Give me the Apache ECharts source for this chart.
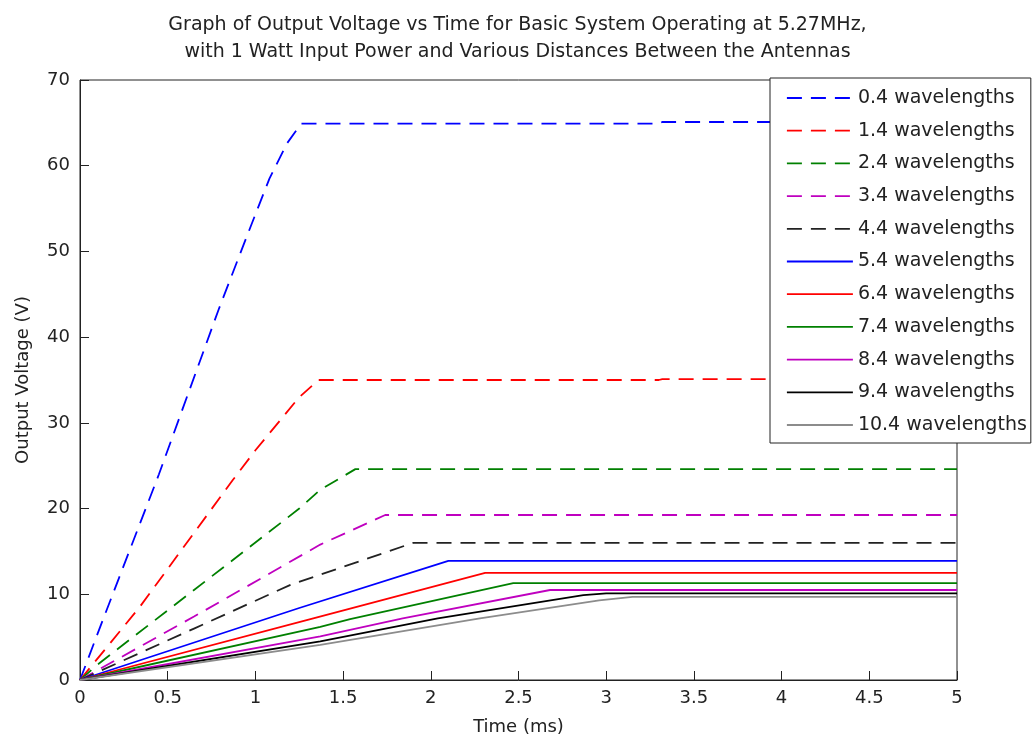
<!DOCTYPE html>
<html>
<head>
<meta charset="utf-8">
<title>Output Voltage vs Time</title>
<script src="https://cdn.jsdelivr.net/npm/echarts@6.0.0/dist/echarts.min.js"></script>
<style>
  html, body { margin: 0; padding: 0; background: #fff; }
  #chart { width: 1035px; height: 740px; }
</style>
</head>
<body>
<div id="chart"></div>
<script>
// Antenna separations, in wavelengths
const distances = ['0.4', '1.4', '2.4', '3.4', '4.4', '5.4', '6.4', '7.4', '8.4', '9.4', '10.4'];

// Output voltage traces: [time (ms), voltage (V)]
const v04 = [[0, 0], [0.13, 7.0], [0.45, 24.0], [0.79, 43.2], [0.95, 51.7], [1.08, 58.5], [1.18, 62.6], [1.26, 64.9], [3.3, 64.9], [3.32, 65.1], [5, 65.1]];
const v14 = [[0, 0], [0.34, 8.5], [0.87, 23.3], [1.0, 26.8], [1.25, 33.0], [1.36, 35.0], [3.3, 35.0], [3.32, 35.1], [5, 35.1]];
const v24 = [[0, 0], [0.1, 1.8], [0.65, 10.5], [1.25, 20.0], [1.37, 22.2], [1.57, 24.6], [5, 24.6]];
const v34 = [[0, 0], [0.65, 7.4], [1.37, 15.8], [1.74, 19.25], [5, 19.25]];
const v44 = [[0, 0], [0.65, 6.0], [1.2, 11.1], [1.9, 16.0], [5, 16.0]];
const v54 = [[0, 0], [1.25, 8.4], [2.1, 13.9], [5, 13.9]];
const v64 = [[0, 0], [1.33, 7.2], [2.31, 12.5], [5, 12.5]];
const v74 = [[0, 0], [1.37, 6.2], [1.54, 7.1], [2.47, 11.3], [5, 11.3]];
const v84 = [[0, 0], [1.37, 5.1], [1.84, 7.2], [2.68, 10.5], [5, 10.5]];
const v94 = [[0, 0], [1.37, 4.5], [2.04, 7.2], [2.87, 9.9], [3.0, 10.1], [5, 10.1]];
const v104 = [[0, 0], [1.37, 4.1], [2.28, 7.2], [2.96, 9.3], [3.15, 9.7], [5, 9.7]];

const traces = [v04, v14, v24, v34, v44, v54, v64, v74, v84, v94, v104];
const colors = ['#0000ff', '#ff0000', '#008000', '#bf00bf', '#222222',
                '#0000ff', '#ff0000', '#008000', '#bf00bf', '#000000', '#8c8c8c'];
const dashed = [true, true, true, true, true, false, false, false, false, false, false];

const xTicks = { min: 0, max: 5, interval: 0.5 };
const yTicks = { min: 0, max: 70, interval: 10 };

const FONT = 'DejaVu Sans';
const TEXT = '#222';

const series = traces.map((data, i) => ({
  name: distances[i] + ' wavelengths',
  type: 'line',
  data: data,
  symbol: 'none',
  showSymbol: false,
  animation: false,
  color: colors[i],
  lineStyle: {
    color: colors[i],
    width: 1.8,
    type: dashed[i] ? [15, 9] : 'solid'
  }
}));

const chart = echarts.init(document.getElementById('chart'), null, { renderer: 'canvas' });
chart.setOption({
  backgroundColor: '#fff',
  animation: false,
  title: {
    text: 'Graph of Output Voltage vs Time for Basic System Operating at 5.27MHz,\nwith 1 Watt Input Power and Various Distances Between the Antennas',
    left: 'center',
    top: 7,
    textStyle: { fontFamily: FONT, fontSize: 19, fontWeight: 'normal', color: TEXT, lineHeight: 27 }
  },
  grid: {
    left: 80, top: 80, right: 78, bottom: 60,
    show: true, borderColor: '#222', borderWidth: 1, backgroundColor: '#fff',
    outerBoundsMode: 'none'
  },
  legend: {
    orient: 'vertical',
    left: 770, top: 78,
    padding: [10, 4, 8, 16],
    itemWidth: 66, itemHeight: 14, itemGap: 12.7,
    backgroundColor: '#fff',
    borderColor: '#222', borderWidth: 1, borderRadius: 0,
    itemStyle: { color: 'rgba(0,0,0,0)', borderWidth: 0, opacity: 0 },
    lineStyle: { width: 1.8 },
    textStyle: { fontFamily: FONT, fontSize: 19, color: TEXT, lineHeight: 20 },
    data: series.map(s => s.name)
  },
  xAxis: {
    type: 'value',
    min: xTicks.min, max: xTicks.max, interval: xTicks.interval,
    name: 'Time (ms)', nameLocation: 'middle', nameGap: 38,
    nameTextStyle: { fontFamily: FONT, fontSize: 18, color: TEXT },
    axisLine: { show: true, lineStyle: { color: '#222', width: 1 } },
    axisTick: { show: true, inside: true, length: 9, lineStyle: { color: '#222' } },
    axisLabel: { fontFamily: FONT, fontSize: 18, color: TEXT, margin: 9 },
    splitLine: { show: false }
  },
  yAxis: {
    type: 'value',
    min: yTicks.min, max: yTicks.max, interval: yTicks.interval,
    name: 'Output Voltage (V)', nameLocation: 'middle', nameGap: 48, nameRotate: 90,
    nameTextStyle: { fontFamily: FONT, fontSize: 18, color: TEXT },
    axisLine: { show: true, lineStyle: { color: '#222', width: 1 } },
    axisTick: { show: true, inside: true, length: 9, lineStyle: { color: '#222' } },
    axisLabel: { fontFamily: FONT, fontSize: 18, color: TEXT, margin: 10 },
    splitLine: { show: false }
  },
  series: series
});
</script>
</body>
</html>
